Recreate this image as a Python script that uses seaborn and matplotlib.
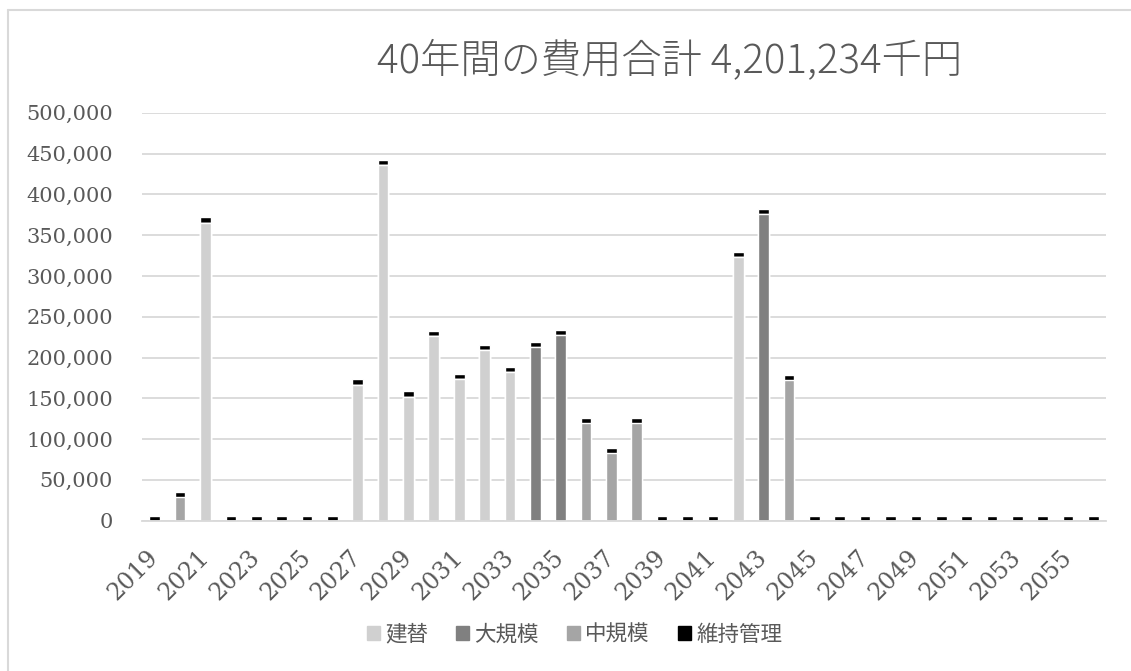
import seaborn as sns
import matplotlib.pyplot as plt
import matplotlib.patches as mpatches
import matplotlib.lines as mlines
import pandas as pd
import numpy as np

# data (unit: 千円)
years = [str(y) for y in range(2019, 2057)]
tatekae = {2021: 365200, 2027: 166700, 2028: 435500, 2029: 152000, 2030: 226000,
           2031: 173300, 2032: 209200, 2033: 182600, 2042: 322800}
daikibo = {2034: 212500, 2035: 227200, 2043: 376200}
chukibo = {2020: 29000, 2036: 119400, 2037: 83300, 2038: 120100, 2044: 172400}
ijikanri = [6200, 6200, 6500, 6200, 6200, 6200, 6200, 6200, 6600, 6500,
            6600, 6500, 6100, 6100, 6100, 6100, 6100, 6100, 6100, 6100,
            6200, 6200, 6200, 6100, 6200, 6200, 6200, 6200, 6200, 6200,
            6200, 6200, 6200, 6200, 6200, 6200, 6200, 6200]
series_names = ["建替", "大規模", "中規模", "維持管理"]
colors = ["#D0D0D0", "#808080", "#A5A5A5", "#000000"]
title = "40年間の費用合計 4,201,234千円"

yrs = list(range(2019, 2057))
df = pd.DataFrame({
    "year": years,
    "建替": [tatekae.get(y, 0) for y in yrs],
    "大規模": [daikibo.get(y, 0) for y in yrs],
    "中規模": [chukibo.get(y, 0) for y in yrs],
    "維持管理": ijikanri,
})

sns.set_style("white")
plt.rcParams["font.family"] = ["Noto Sans CJK JP", "DejaVu Sans"]

fig = plt.figure(figsize=(11.31, 6.71), dpi=100)
ax = fig.add_axes([0.1256, 0.224, 0.8524, 0.608])

# stacked: draw cumulative sums from the top layer down
cum = df[series_names].cumsum(axis=1)
for name, col in reversed(list(zip(series_names, colors))):
    sns.barplot(x=df["year"], y=cum[name], color=col, width=0.42,
                saturation=1, ax=ax, order=years)

ax.set_ylim(0, 500000)
ax.set_xlim(-0.5, len(years) - 0.5)
ax.set_yticks(np.arange(0, 500001, 50000))
ax.set_yticklabels([f"{v:,}" for v in range(0, 500001, 50000)],
                   family="DejaVu Serif", fontsize=15, color="#595959")
ax.yaxis.grid(True, color="#D9D9D9", linewidth=1.3)
ax.set_axisbelow(True)
ax.set_xticks(range(0, len(years), 2))
ax.set_xticklabels(years[::2], rotation=45, ha="right", va="center",
                   rotation_mode="anchor", family="DejaVu Serif",
                   fontsize=17, color="#595959")
ax.tick_params(axis="both", length=0)
ax.tick_params(axis="x", pad=24)
ax.tick_params(axis="y", pad=21)
ax.set_xlabel("")
ax.set_ylabel("")
for s in ["top", "right", "left"]:
    ax.spines[s].set_visible(False)
ax.spines["bottom"].set_color("#D9D9D9")
ax.spines["bottom"].set_linewidth(1.3)

fig.text(0.592, 0.908, title, ha="center", va="center", fontsize=29,
         color="#595959", weight="light")

handles = [mpatches.Patch(color=c, label=n) for n, c in zip(series_names, colors)]
fig.legend(handles=handles, loc="center", bbox_to_anchor=(0.508, 0.054), ncol=4,
           frameon=False, fontsize=15.5, handlelength=0.6, handleheight=0.6,
           handletextpad=0.25, columnspacing=1.3, labelcolor="#595959")

# chart-area border (left and top edges visible)
fig.add_artist(mlines.Line2D([8 / 1131, 8 / 1131], [0, 1 - 10 / 671],
                             transform=fig.transFigure, color="#D9D9D9", lw=1.5))
fig.add_artist(mlines.Line2D([8 / 1131, 1], [1 - 10 / 671, 1 - 10 / 671],
                             transform=fig.transFigure, color="#D9D9D9", lw=1.5))

fig.savefig("out.png", dpi=100)
